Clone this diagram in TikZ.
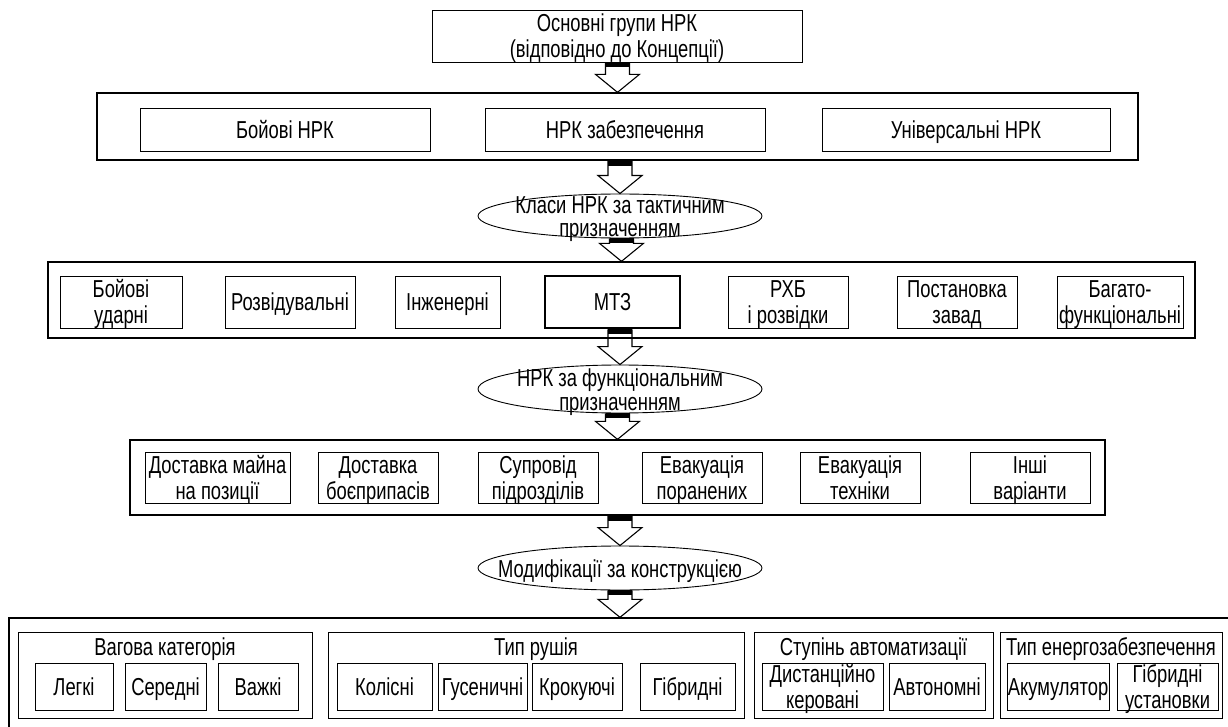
\documentclass[tikz,border=0pt]{standalone}
\usepackage{fontspec}
\setmainfont{Liberation Sans}[FakeStretch=0.75]
\usetikzlibrary{shapes.geometric,calc}
\tikzstyle{frame} = [rectangle, draw, line width=1.3pt]
\tikzstyle{item}  = [rectangle, draw, line width=0.9pt, inner sep=0pt]
\tikzstyle{mainitem} = [item, line width=2.8pt]
\tikzstyle{group} = [rectangle, draw, line width=0.9pt]
\tikzstyle{gtitle} = [anchor=north, inner sep=0pt, yshift=-7pt, text height=17pt, text depth=5pt]
\tikzstyle{oval}  = [ellipse, draw, line width=0.9pt, inner sep=0pt]
\tikzstyle{hollow} = [draw, line width=1.1pt, line join=miter]
\tikzset{wh/.style 2 args={minimum width=#1, minimum height=#2}}
% text of fixed size: the box alone gives the node size
\newcommand{\tx}[1]{\makebox[0pt]{\raisebox{-9.7pt}[0pt][0pt]{%
	\begin{tabular}{@{}c@{}}#1\end{tabular}}}}
\newcommand{\ovaltext}[1]{\makebox[0pt]{\raisebox{-10.5pt}[0pt][0pt]{%
	\renewcommand{\arraystretch}{0.9}\begin{tabular}{@{}c@{}}#1\end{tabular}}}}
\newcommand{\flowarrow}[2]{%
	\draw [hollow] let \p1 = (#1.south), \p2 = (#2.north) in
		(\x2-12pt,\y1) -- (\x2-12pt,\y2+18pt) -- (\x2-22pt,\y2+18pt) -- (\x2,\y2)
		-- (\x2+22pt,\y2+18pt) -- (\x2+12pt,\y2+18pt) -- (\x2+12pt,\y1);
	\fill let \p1 = (#1.south), \p2 = (#2.north) in
		(\x2-12pt,\y1) rectangle (\x2+12pt,\y1-5pt);}

\begin{document}
\begin{tikzpicture}[x=1pt, y=-1pt, font=\fontsize{24.5}{26}\selectfont]
	\useasboundingbox (0,0) rectangle (1228,727);
	\clip (0,0) rectangle (1228,727);

	% title node
	\node [item, wh={370}{52}] (N0) at (617,36) {\tx{Основні групи НРК\\(відповідно до Концепції)}};

	% groups of UGV
	\node [frame, wh={1041}{67}] (R1) at (617.5,126.5) {};
	\node [item, wh={290}{43}] (R1a) at (285,129.5) {\tx{Бойові НРК}};
	\node [item, wh={280}{43}] (R1b) at (625,129.5) {\tx{НРК забезпечення}};
	\node [item, wh={288}{43}] (R1c) at (966,129.5) {\tx{Універсальні НРК}};

	% tactical classes
	\node [oval, wh={284}{44}] (E1) at (620,216) {\ovaltext{Класи НРК за тактичним\\призначенням}};
	\node [frame, wh={1147}{76}] (R2) at (621.5,300) {};
	\node [item, wh={122}{52}] (R2a) at (121,302) {\tx{Бойові\\ударні}};
	\node [item, wh={130}{52}] (R2b) at (290,302) {\tx{Розвідувальні}};
	\node [item, wh={105}{52}] (R2c) at (447.5,302) {\tx{Інженерні}};
	\node [mainitem, wh={135}{52}] (R2d) at (612.5,302) {\tx{МТЗ}};
	\node [item, wh={120}{52}] (R2e) at (788,302) {\tx{РХБ\\і розвідки}};
	\node [item, wh={120}{52}] (R2f) at (957,302) {\tx{Постановка\\завад}};
	\node [item, wh={126}{52}] (R2g) at (1120,302) {\tx{Багато-\\функціональні}};

	% functional purpose
	\node [oval, wh={284}{48}] (E2) at (620,389) {\ovaltext{НРК за функціональним\\призначенням}};
	\node [frame, wh={975}{75}] (R3) at (617.5,477.5) {};
	\node [item, wh={145}{51}] (R3a) at (217.5,477.5) {\tx{Доставка майна\\на позиції}};
	\node [item, wh={120}{51}] (R3b) at (378,477.5) {\tx{Доставка\\боєприпасів}};
	\node [item, wh={120}{51}] (R3c) at (538,477.5) {\tx{Супровід\\підрозділів}};
	\node [item, wh={120}{51}] (R3d) at (702,477.5) {\tx{Евакуація\\поранених}};
	\node [item, wh={120}{51}] (R3e) at (860,477.5) {\tx{Евакуація\\техніки}};
	\node [item, wh={120}{51}] (R3f) at (1030,477.5) {\tx{Інші\\варіанти}};

	% design modifications
	\node [oval, wh={284}{44}] (E3) at (620,568) {\ovaltext{Модифікації за конструкцією}};
	\node [frame, wh={1222}{122}] (R4) at (620,679) {};
	\node [group, wh={294}{86}, label={[gtitle]north:Вагова категорія}] (G1) at (165,675) {};
	\node [group, wh={416}{86}, label={[gtitle]north:Тип рушія}] (G2) at (536,675) {};
	\node [group, wh={239}{86}, label={[gtitle]north:Ступінь автоматизації}] (G3) at (873.5,675) {};
	\node [group, wh={222}{86}, label={[gtitle]north:Тип енергозабезпечення}] (G4) at (1111,675) {};
	\node [item, wh={78}{47}] (G1a) at (74,686.5) {\tx{Легкі}};
	\node [item, wh={81}{47}] (G1b) at (165.5,686.5) {\tx{Середні}};
	\node [item, wh={80}{47}] (G1c) at (258,686.5) {\tx{Важкі}};
	\node [item, wh={95}{47}] (G2a) at (384.5,686.5) {\tx{Колісні}};
	\node [item, wh={89}{47}] (G2b) at (482.5,686.5) {\tx{Гусеничні}};
	\node [item, wh={90}{47}] (G2c) at (577,686.5) {\tx{Крокуючі}};
	\node [item, wh={95}{47}] (G2d) at (687.5,686.5) {\tx{Гібридні}};
	\node [item, wh={121}{47}] (G3a) at (822.5,686.5) {\tx{Дистанційно\\керовані}};
	\node [item, wh={96}{47}] (G3b) at (937,686.5) {\tx{Автономні}};
	\node [item, wh={102}{47}] (G4a) at (1058,686.5) {\tx{Акумулятор}};
	\node [item, wh={101}{47}] (G4b) at (1167.5,686.5) {\tx{Гібридні\\установки}};

	% draw edges
	\flowarrow{N0}{R1}
	\flowarrow{R1}{E1}
	\flowarrow{E1}{R2}
	\flowarrow{R2d}{E2}
	\flowarrow{E2}{R3}
	\flowarrow{R3}{E3}
	\flowarrow{E3}{R4}
\end{tikzpicture}
\end{document}
